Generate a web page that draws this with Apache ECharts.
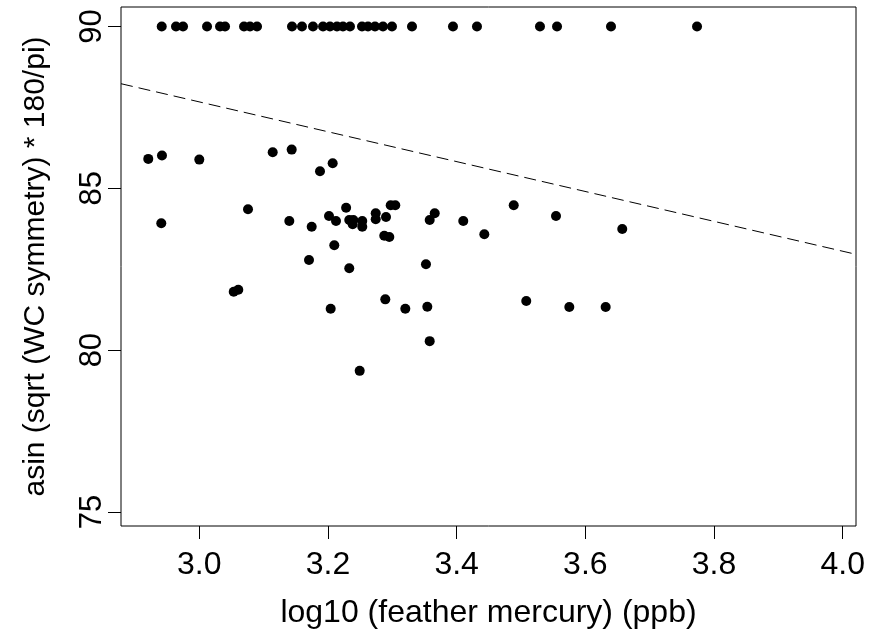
<!DOCTYPE html>
<html>
<head>
<meta charset="utf-8">
<script src="https://cdn.jsdelivr.net/npm/echarts@6/dist/echarts.min.js"></script>
<style>html,body{margin:0;padding:0;background:#fff}#c{width:869px;height:638px}</style>
</head>
<body>
<div id="c"></div>
<script>
// Points at the 90 ceiling
const topX = [2.9416, 2.9638, 2.9747, 3.012, 3.0322, 3.04, 3.0695, 3.0788, 3.0897,
  3.1441, 3.1596, 3.1767, 3.1923, 3.2031, 3.214, 3.2233, 3.2342, 3.2529, 3.2622,
  3.2731, 3.2855, 3.2995, 3.3306, 3.3943, 3.4316, 3.5295, 3.556, 3.6399, 3.7736];
const topY = topX.map(() => 90);
// Points below the ceiling
const lowX = [2.9207, 2.942, 3.000, 3.1141, 3.1436, 3.1876, 3.2073, 3.0757, 2.9409, 3.1399,
  3.1747, 3.2016, 3.2125, 3.2282, 3.2331, 3.2394, 3.2384, 3.2533, 3.2533, 3.2742,
  3.2742, 3.2902, 3.2975, 3.3046, 3.3581, 3.3659, 3.4103, 3.4430, 3.2875, 3.2953,
  3.2098, 3.1705, 3.2331, 3.3523, 3.0535, 3.0606, 3.2042, 3.2891, 3.3202, 3.3544,
  3.3581, 3.2493, 3.4887, 3.5544, 3.6574, 3.5082, 3.5751, 3.6316];
const lowY = [85.908, 86.010, 85.886, 86.115, 86.195, 85.527, 85.775, 84.352, 83.919, 83.990,
  83.814, 84.145, 83.990, 84.401, 84.021, 84.021, 83.888, 83.990, 83.814, 84.228,
  84.043, 84.114, 84.476, 84.476, 84.021, 84.228, 83.990, 83.579, 83.535, 83.495,
  83.239, 82.784, 82.527, 82.651, 81.803, 81.865, 81.278, 81.568, 81.278, 81.339,
  80.278, 79.360, 84.476, 84.145, 83.743, 81.516, 81.330, 81.330];
// Dashed fitted line endpoints
const lineX = [2.8783, 4.0207];
const lineY = [88.23, 82.96];
// Axis ranges and ticks
const xRange = [2.8783, 4.0207];
const yRange = [74.567, 90.6];
const xTicks = [3.0, 3.2, 3.4, 3.6, 3.8, 4.0];
const yTicks = [75, 80, 85, 90];

const pts = topX.map((x, i) => [x, topY[i]]).concat(lowX.map((x, i) => [x, lowY[i]]));
const linePts = lineX.map((x, i) => [x, lineY[i]]);

const FONT = 'Liberation Sans, Arial, sans-serif';
const chart = echarts.init(document.getElementById('c'), null, {renderer: 'canvas'});
chart.setOption({
  animation: false,
  backgroundColor: '#fff',
  grid: {left: 121, right: 13, top: 7, bottom: 112, show: true, borderColor: '#000', borderWidth: 1, backgroundColor: 'transparent'},
  xAxis: {
    type: 'value', min: xRange[0], max: xRange[1],
    name: 'log10 (feather mercury) (ppb)', nameLocation: 'middle', nameGap: 71,
    nameTextStyle: {fontFamily: FONT, fontSize: 32, color: '#000'},
    axisLine: {show: false},
    splitLine: {show: false},
    axisTick: {show: true, inside: false, length: 13, lineStyle: {color: '#000', width: 1}, customValues: xTicks},
    axisLabel: {fontFamily: FONT, fontSize: 32, color: '#000', margin: 23, customValues: xTicks,
      formatter: v => v.toFixed(1)}
  },
  yAxis: {
    type: 'value', min: yRange[0], max: yRange[1],
    name: 'asin (sqrt (WC symmetry) * 180/pi)', nameLocation: 'middle', nameGap: 70, nameRotate: 90,
    nameTextStyle: {fontFamily: FONT, fontSize: 30, color: '#000'},
    axisLine: {show: false},
    splitLine: {show: false},
    axisTick: {show: true, inside: false, length: 13, lineStyle: {color: '#000', width: 1}, customValues: yTicks},
    axisLabel: {fontFamily: FONT, fontSize: 31, color: '#000', margin: 13, rotate: 90, customValues: yTicks,
      formatter: v => String(v)}
  },
  series: [
    {type: 'scatter', data: pts, symbol: 'circle', symbolSize: 10, itemStyle: {color: '#000', opacity: 1}, silent: true},
    {type: 'line', data: linePts, showSymbol: false, symbol: 'none', lineStyle: {color: '#000', width: 1, type: [12, 6]}, silent: true}
  ]
});
</script>
</body>
</html>
